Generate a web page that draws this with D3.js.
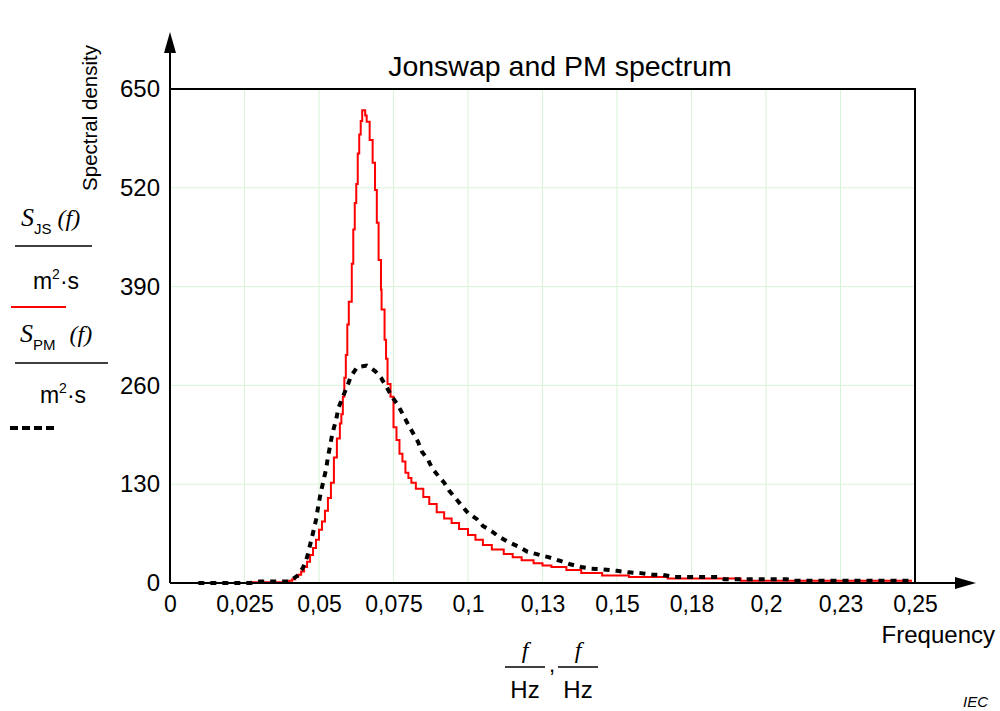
<!DOCTYPE html>
<html>
<head>
<meta charset="utf-8">
<script src="https://cdn.jsdelivr.net/npm/d3@7"></script>
<style>
  body { margin: 0; background: #fff; }
  text { font-family: "Liberation Sans", Arial, sans-serif; fill: #000; }
</style>
</head>
<body>
<script>
// tick labels as printed on the chart (comma decimals)
const xTickValues = [0, 0.025, 0.05, 0.075, 0.1, 0.125, 0.15, 0.175, 0.2, 0.225, 0.25];
const xTickLabels = ["0", "0,025", "0,05", "0,075", "0,1", "0,13", "0,15", "0,18", "0,2", "0,23", "0,25"];
const yTickValues = [0, 130, 260, 390, 520, 650];

// Jonswap spectrum (f in Hz, S in m2*s)
const jsFreq = [0.010, 0.020, 0.027, 0.035, 0.038, 0.040, 0.041, 0.042, 0.043, 0.044, 0.045, 0.046, 0.047, 0.048, 0.049,
  0.050, 0.051, 0.052, 0.053, 0.054, 0.055, 0.056, 0.057, 0.0575, 0.058, 0.0585, 0.059, 0.0595, 0.060, 0.061, 0.0615,
  0.062, 0.0625, 0.063, 0.0635, 0.064, 0.0645, 0.065, 0.0655, 0.066, 0.067, 0.068, 0.0688, 0.0694, 0.070, 0.0708, 0.071,
  0.072, 0.0725, 0.073, 0.074, 0.075, 0.076, 0.077, 0.078, 0.079, 0.080, 0.081, 0.0825, 0.085, 0.087, 0.0895, 0.092,
  0.0945, 0.097, 0.100, 0.1025, 0.105, 0.108, 0.112, 0.115, 0.118, 0.122, 0.125, 0.128, 0.133, 0.138, 0.145, 0.154,
  0.167, 0.1915, 0.249];
const jsVal = [0, 0, 1, 1, 2, 3, 5, 8, 11, 15, 21, 28, 37, 46, 57,
  70, 81, 95, 112, 132, 165, 190, 210, 222, 245, 270, 300, 340, 370, 420, 465,
  500, 525, 565, 590, 608, 622, 622, 615, 607, 583, 553, 517, 474, 425, 386, 360,
  320, 295, 262, 245, 205, 188, 170, 160, 145, 138, 132, 124, 113, 104, 93, 85,
  79, 71, 63, 57, 50, 44, 38, 34, 30, 26, 23, 21, 17, 13, 10, 8,
  6, 3, 3];

// Pierson-Moskowitz spectrum
const pmFreq = [0.0095, 0.027, 0.030, 0.040, 0.0426, 0.0446, 0.046, 0.048, 0.049, 0.0497, 0.0505, 0.0514, 0.0524, 0.053,
  0.0537, 0.0545, 0.0557, 0.0565, 0.058, 0.0595, 0.0607, 0.0628, 0.066, 0.0688, 0.0708, 0.0728, 0.0745, 0.0765, 0.078,
  0.080, 0.0832, 0.0845, 0.0866, 0.088, 0.090, 0.092, 0.0936, 0.0955, 0.0983, 0.100, 0.103, 0.105, 0.108, 0.110, 0.113,
  0.1174, 0.120, 0.124, 0.127, 0.131, 0.134, 0.138, 0.141, 0.145, 0.150, 0.154, 0.158, 0.162, 0.165, 0.169, 0.184,
  0.186, 0.207, 0.209, 0.249];
const pmVal = [0, 0, 2, 2, 9, 20, 34, 66, 83, 100, 117, 133, 150, 166,
  180, 197, 214, 230, 245, 259, 272, 284, 286, 279, 270, 257, 245, 234, 223,
  208, 186, 173, 162, 151, 141, 132, 122, 113, 100, 92, 84, 75, 68, 62, 55,
  47, 41, 37, 34, 29, 25, 21, 19, 18, 16, 14, 13, 11, 11, 8, 8,
  5, 5, 3, 3];

const jsData = jsFreq.map((f, i) => ({f: f, s: jsVal[i]}));
const pmData = pmFreq.map((f, i) => ({f: f, s: pmVal[i]}));

const svg = d3.select("body").append("svg")
  .attr("width", 1000)
  .attr("height", 711);

const x = d3.scaleLinear().domain([0, 0.25]).range([170, 915]);
const y = d3.scaleLinear().domain([0, 650]).range([583, 89]);

// light green grid
svg.append("g").selectAll("line")
  .data(xTickValues.slice(1, -1))
  .join("line")
  .attr("x1", d => x(d)).attr("x2", d => x(d))
  .attr("y1", y(0)).attr("y2", y(650))
  .attr("stroke", "#d6f5d6").attr("stroke-width", 1);
svg.append("g").selectAll("line")
  .data(yTickValues.slice(1, -1))
  .join("line")
  .attr("x1", x(0)).attr("x2", x(0.25))
  .attr("y1", d => y(d)).attr("y2", d => y(d))
  .attr("stroke", "#d6f5d6").attr("stroke-width", 1);

// frame top + right
svg.append("path")
  .attr("d", `M${x(0)},${y(650)}H${x(0.25)}V${y(0)}`)
  .attr("fill", "none").attr("stroke", "#000").attr("stroke-width", 2);

// curves
svg.append("path")
  .datum(jsData)
  .attr("fill", "none")
  .attr("stroke", "#ff0000")
  .attr("stroke-width", 2)
  .attr("d", d3.line().x(d => x(d.f)).y(d => y(d.s)).curve(d3.curveStepAfter));

svg.append("path")
  .datum(pmData)
  .attr("fill", "none")
  .attr("stroke", "#000")
  .attr("stroke-width", 4)
  .attr("stroke-dasharray", "6,6")
  .attr("d", d3.line().x(d => x(d.f)).y(d => y(d.s)));

// axes with arrows
svg.append("line")
  .attr("x1", x(0)).attr("x2", 958).attr("y1", y(0)).attr("y2", y(0))
  .attr("stroke", "#000").attr("stroke-width", 2);
svg.append("path").attr("d", `M976,${y(0)}L955,${y(0) - 6}L955,${y(0) + 6}Z`).attr("fill", "#000");
svg.append("line")
  .attr("x1", x(0)).attr("x2", x(0)).attr("y1", y(0)).attr("y2", 50)
  .attr("stroke", "#000").attr("stroke-width", 2);
svg.append("path").attr("d", `M${x(0)},32L${x(0) - 6},53L${x(0) + 6},53Z`).attr("fill", "#000");

const xAxis = svg.append("g")
  .attr("transform", `translate(0,${y(0)})`)
  .call(d3.axisBottom(x).tickValues(xTickValues).tickSize(0).tickPadding(13)
    .tickFormat((d, i) => xTickLabels[i]));
xAxis.select(".domain").remove();
xAxis.selectAll("text").style("font-size", "23px").style("font-family", "Liberation Sans, Arial, sans-serif");

const yAxis = svg.append("g")
  .attr("transform", `translate(${x(0)},0)`)
  .call(d3.axisLeft(y).tickValues(yTickValues).tickSize(0).tickPadding(10));
yAxis.select(".domain").remove();
yAxis.selectAll("text").style("font-size", "24px").style("font-family", "Liberation Sans, Arial, sans-serif");

// title and axis names
svg.append("text").attr("x", 560).attr("y", 76).attr("text-anchor", "middle")
  .style("font-size", "28.5px").text("Jonswap and PM spectrum");
svg.append("text").attr("transform", "translate(97,118) rotate(-90)").attr("text-anchor", "middle")
  .style("font-size", "20.5px").text("Spectral density");
svg.append("text").attr("x", 995).attr("y", 643).attr("text-anchor", "end")
  .style("font-size", "24px").text("Frequency");
svg.append("text").attr("x", 988).attr("y", 707).attr("text-anchor", "end")
  .style("font-size", "15px").style("font-style", "italic").text("IEC");

// left legend: S_JS(f)/(m2*s) and S_PM(f)/(m2*s)
function symbol(g, xs, yb, sub, gap) {
  const t = g.append("text").attr("x", xs).attr("y", yb);
  t.append("tspan").style("font-family", "Liberation Serif, serif").style("font-style", "italic")
    .style("font-size", "26px").text("S");
  t.append("tspan").attr("dy", 8).style("font-size", "15px").text(sub);
  t.append("tspan").attr("dy", -8).attr("dx", gap).style("font-family", "Liberation Serif, serif")
    .style("font-style", "italic").style("font-size", "24px").text("(f)");
}
function unit(g, xc, yb) {
  const t = g.append("text").attr("x", xc).attr("y", yb).attr("text-anchor", "middle").style("font-size", "23px");
  t.append("tspan").text("m");
  t.append("tspan").attr("dy", -10).style("font-size", "14px").text("2");
  t.append("tspan").attr("dy", 10).text("\u00b7s");
}
const leg = svg.append("g");
symbol(leg, 21, 226, "JS", 6);
leg.append("line").attr("x1", 15).attr("x2", 92).attr("y1", 246).attr("y2", 246).attr("stroke", "#000").attr("stroke-width", 1.5);
unit(leg, 56, 289);
leg.append("line").attr("x1", 11).attr("x2", 66).attr("y1", 307).attr("y2", 307).attr("stroke", "#ff0000").attr("stroke-width", 2);
symbol(leg, 20, 342, "PM", 14);
leg.append("line").attr("x1", 15).attr("x2", 108).attr("y1", 363).attr("y2", 363).attr("stroke", "#000").attr("stroke-width", 1.5);
unit(leg, 63, 403);
leg.append("line").attr("x1", 10).attr("x2", 56).attr("y1", 428).attr("y2", 428)
  .attr("stroke", "#000").attr("stroke-width", 4).attr("stroke-dasharray", "8,4");

// frequency unit below axis: f/Hz , f/Hz
function fracF(g, x1, x2) {
  const xc = (x1 + x2) / 2;
  g.append("text").attr("x", xc).attr("y", 658).attr("text-anchor", "middle")
    .style("font-family", "Liberation Serif, serif").style("font-style", "italic").style("font-size", "24px").text("f");
  g.append("line").attr("x1", x1).attr("x2", x2).attr("y1", 667).attr("y2", 667).attr("stroke", "#000").attr("stroke-width", 1.5);
  g.append("text").attr("x", xc).attr("y", 698).attr("text-anchor", "middle").style("font-size", "24px").text("Hz");
}
const fu = svg.append("g");
fracF(fu, 505, 545);
fu.append("text").attr("x", 549).attr("y", 672).style("font-size", "22px").text(",");
fracF(fu, 558, 598);
</script>
</body>
</html>
